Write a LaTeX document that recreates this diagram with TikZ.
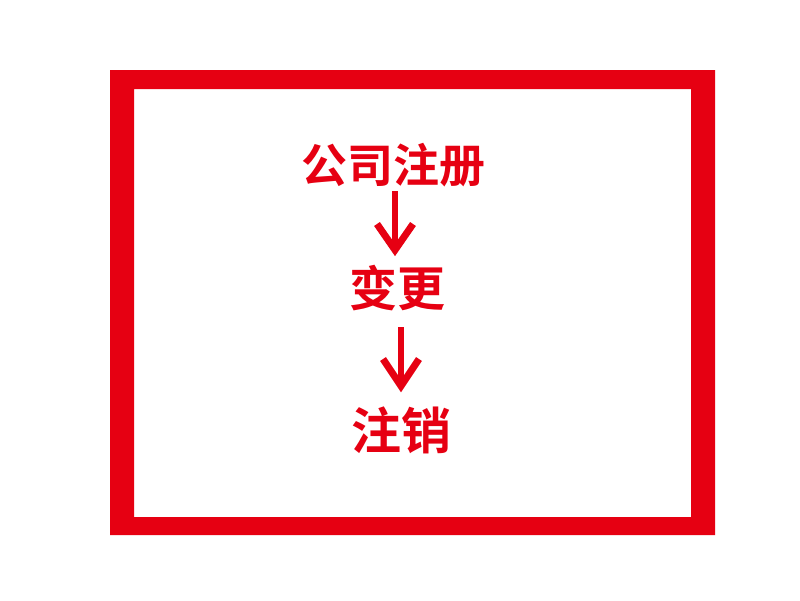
\documentclass[tikz,border=0pt]{standalone}
\usepackage{fontspec}
\newfontfamily\cjk{Noto Sans CJK SC Bold}
\definecolor{cred}{RGB}{230,0,18}
\begin{document}
\begin{tikzpicture}[x=1pt,y=-1pt,
  lbl/.style={text=cred,inner sep=0pt,anchor=center},
  shaft/.style={draw=cred,line width=6.5pt},
  chev/.style={draw=cred,line width=7pt,line join=miter,line cap=butt}]
\useasboundingbox (0,0) rectangle (800,600);
\fill[white] (0,0) rectangle (800,600);
\fill[cred,even odd rule] (110,70) rectangle (715,535) (134,89) rectangle (691,517);
\node[lbl,font=\cjk\fontsize{46}{46}\selectfont] (a) at (393,165) {公司注册};
\node[lbl,font=\cjk\fontsize{48}{48}\selectfont] (b) at (397.5,288) {变更};
\node[lbl,font=\cjk\fontsize{50}{50}\selectfont] (c) at (401,430) {注销};
% arrow 1
\coordinate (a1s) at (395,191);
\coordinate (a1t) at (395,250);
\draw[shaft] (a1s) -- (a1t);
\draw[chev] (377,224) -- (a1t) -- (413,224);
% arrow 2
\coordinate (a2s) at (401,327);
\coordinate (a2t) at (401,386);
\draw[shaft] (a2s) -- (a2t);
\draw[chev] (383,359) -- (a2t) -- (419,359);
\end{tikzpicture}
\end{document}
